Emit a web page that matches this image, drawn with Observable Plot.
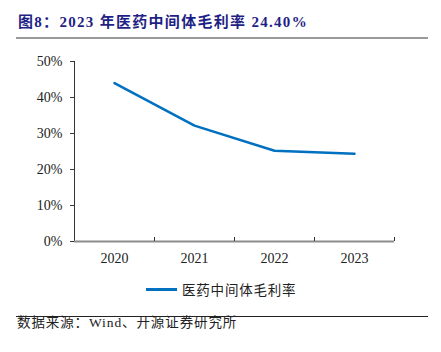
<!DOCTYPE html>
<html>
<head>
<meta charset="utf-8">
<script src="https://cdn.jsdelivr.net/npm/d3@7"></script>
<script src="https://cdn.jsdelivr.net/npm/@observablehq/plot@0.6"></script>
<style>
  html, body { margin: 0; padding: 0; background: #fff; }
  #wrap { position: relative; width: 441px; height: 352px; overflow: hidden; }
  #title { position: absolute; left: 18px; top: 12px; font-family: "Liberation Serif", "Noto Sans CJK SC", serif; font-weight: bold; font-size: 15px; letter-spacing: 1.3px; color: #1f1f86; white-space: nowrap; line-height: 20px; }
  #tline { position: absolute; left: 16px; top: 37px; width: 412px; height: 2px; background: #9a9a9a; }
  #chart { position: absolute; left: 0; top: 50px; }
  #legend { position: absolute; left: 146px; top: 279px; height: 20px; display: flex; align-items: center; font-family: "Noto Sans CJK SC", sans-serif; font-size: 13.5px; color: #222; letter-spacing: 0.8px; }
  #legend .sw { width: 31px; height: 3px; background: #0070c0; margin-right: 5px; }
  #bline { position: absolute; left: 16px; top: 316px; width: 412px; height: 1px; background: #222; }
  #caption { position: absolute; left: 17px; top: 314px; font-family: "Liberation Serif", "Noto Sans CJK SC", serif; font-size: 13.5px; color: #222; white-space: nowrap; line-height: 18px; letter-spacing: 0.9px; }
</style>
</head>
<body>
<div id="wrap">
  <div id="title"></div>
  <div id="tline"></div>
  <div id="chart"></div>
  <div id="legend"><div class="sw"></div><span id="legtext"></span></div>
  <div id="bline"></div>
  <div id="caption"></div>
</div>
<script>
const titleText = "图8：2023 年医药中间体毛利率 24.40%";
const seriesName = "医药中间体毛利率";
const captionText = "数据来源：Wind、开源证券研究所";
const years = [2020, 2021, 2022, 2023];
const margin = [44.0, 32.2, 25.2, 24.4];
const yTicks = [0, 10, 20, 30, 40, 50];

document.getElementById("title").textContent = titleText;
document.getElementById("legtext").textContent = seriesName;
document.getElementById("caption").textContent = captionText;

const data = years.map((y, i) => ({year: y, value: margin[i]}));
const boundaries = years.map(y => y + 0.5);

const chart = Plot.plot({
  width: 441,
  height: 220,
  marginLeft: 74,
  marginRight: 47,
  marginTop: 11,
  marginBottom: 29,
  style: {fontFamily: "'Liberation Serif', 'Times New Roman', serif", fontSize: "14px", color: "#222", background: "#fff"},
  x: {domain: [years[0] - 0.5, years[years.length - 1] + 0.5], axis: null},
  y: {domain: [0, 50], axis: null},
  marks: [
    Plot.axisY({ticks: yTicks, tickFormat: d => d + "%", tickSize: 4, tickPadding: 8, stroke: "#333", fill: "#222", label: null}),
    Plot.ruleX([years[0] - 0.5], {stroke: "#333", strokeWidth: 1}),
    Plot.ruleY([0], {stroke: "#8c8c8c", strokeWidth: 2}),
    Plot.axisX({ticks: boundaries, tickSize: 4, dy: -4, tickFormat: () => "", stroke: "#333", label: null}),
    Plot.axisX({ticks: years, tickSize: 0, tickPadding: 12, tickFormat: d => String(d), fill: "#222", label: null}),
    Plot.line(data, {x: "year", y: "value", stroke: "#0070c0", strokeWidth: 2.5})
  ]
});
document.getElementById("chart").appendChild(chart);
</script>
</body>
</html>
